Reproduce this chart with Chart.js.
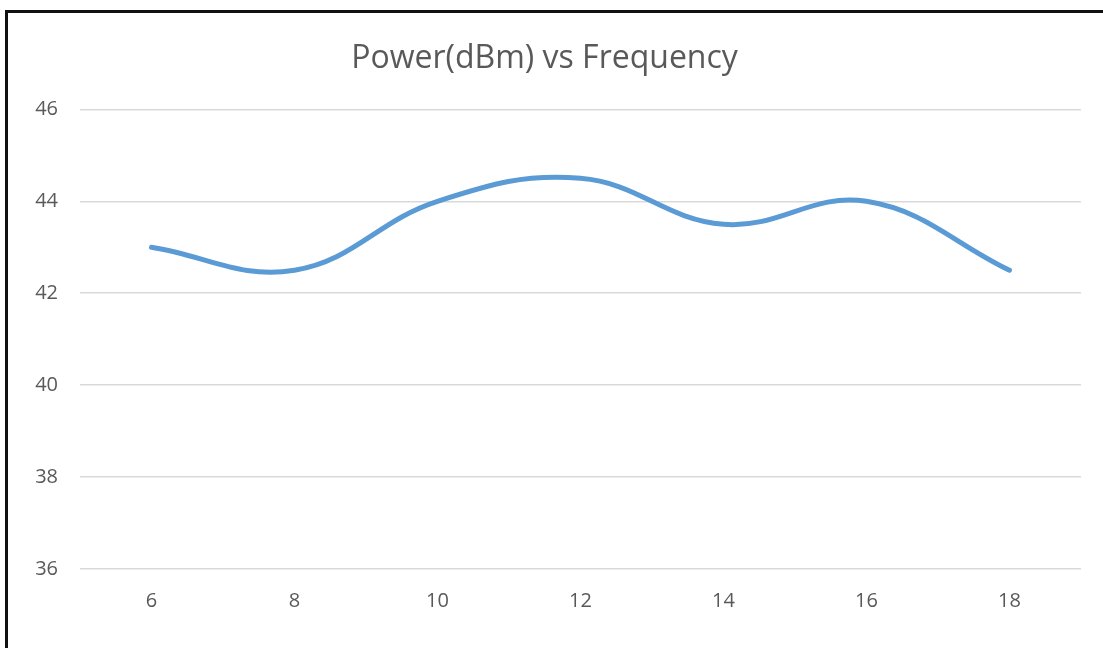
<!DOCTYPE html>
<html>
<head>
<meta charset="utf-8">
<script src="https://cdn.jsdelivr.net/npm/chart.js@4"></script>
<style>
  html, body { margin: 0; padding: 0; background: #fff; }
  #wrap { position: relative; width: 1103px; height: 648px; overflow: hidden; }
  #frame {
    position: absolute; left: 5px; top: 10px; width: 1200px; height: 700px;
    border-left: 3px solid #111; border-top: 3px solid #111;
  }
  canvas { position: absolute; left: 0; top: 0; }
</style>
</head>
<body>
<div id="wrap">
  <div id="frame"></div>
  <canvas id="powerChart" width="1103" height="648"></canvas>
</div>
<script>
// frequency categories and measured power
const frequencies = ['6', '8', '10', '12', '14', '16', '18'];
const powerDbm = [43, 42.5, 44, 44.5, 43.5, 44, 42.5];
const yTicks = [36, 38, 40, 42, 44, 46];

const textColor = '#595959';
const fontFamily = "'Open Sans', 'Liberation Sans', sans-serif";

const ctx = document.getElementById('powerChart').getContext('2d');
new Chart(ctx, {
    type: 'line',
    data: {
        labels: frequencies,
        datasets: [{
            label: 'Power(dBm)',
            data: powerDbm,
            borderColor: '#5B9BD5',
            borderWidth: 5,
            borderCapStyle: 'round',
            pointRadius: 0,
            tension: 0.4,
            fill: false
        }]
    },
    options: {
        responsive: false,
        animation: false,
        layout: {
            padding: { left: 8, right: 22, top: 0, bottom: 0 }
        },
        plugins: {
            legend: { display: false },
            tooltip: { enabled: false },
            title: {
                display: true,
                text: 'Power(dBm) vs Frequency',
                color: textColor,
                font: { family: fontFamily, size: 32, weight: 'normal', lineHeight: 1.2 },
                padding: { top: 40, bottom: 31 }
            }
        },
        scales: {
            x: {
                offset: true,
                grid: { display: false, drawTicks: false },
                border: { display: false },
                ticks: {
                    color: textColor,
                    padding: 20,
                    maxRotation: 0,
                    font: { family: fontFamily, size: 20 }
                },
                afterFit: scale => { scale.height = 79; }
            },
            y: {
                min: 36,
                max: 46,
                afterBuildTicks: scale => {
                    scale.ticks = yTicks.map(v => ({ value: v }));
                },
                grid: { color: '#D9D9D9', lineWidth: 1.5, drawTicks: false },
                border: { display: false },
                ticks: {
                    color: textColor,
                    padding: 22,
                    font: { family: fontFamily, size: 20 }
                },
                afterFit: scale => { scale.width = 72; }
            }
        }
    }
});
</script>
</body>
</html>
